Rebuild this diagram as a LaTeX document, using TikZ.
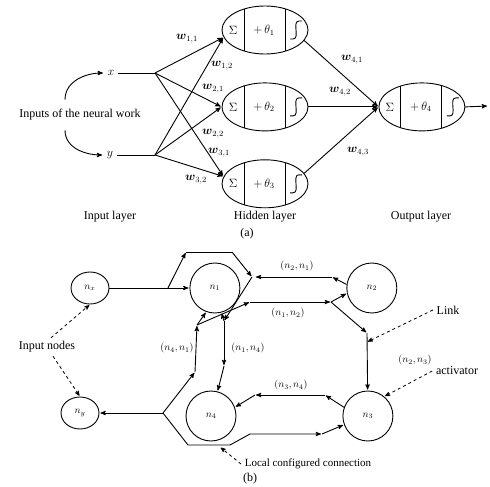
\documentclass[tikz,border=0pt]{standalone}
\usepackage{amsmath}
\usepackage{amssymb}
\usepackage{fontspec}
\setmainfont{Liberation Serif}
\usetikzlibrary{arrows,positioning,shapes.geometric}
\tikzset{
    %Define standard arrow tip
    >=stealth',
    %Define style for the neurons of (a)
    neuron/.style={
           ellipse,
           draw=black, line width=0.9pt,
           minimum width=86pt,
           minimum height=48pt,
           inner sep=0pt},
    %Define style for the nodes of (b)
    unit/.style={
           circle,
           draw=black, line width=0.9pt,
           minimum size=50pt,
           inner sep=0pt,
           font=\fontsize{10}{12}\selectfont},
    inunit/.style={
           ellipse,
           draw=black, line width=0.9pt,
           minimum width=38pt,
           minimum height=32pt,
           inner sep=0pt,
           font=\fontsize{10}{12}\selectfont},
    weight/.style={font=\fontsize{12}{14}\selectfont},
    pairlbl/.style={font=\fontsize{10}{12}\selectfont},
    % Define arrow styles
    pil/.style={
           ->,
           line width=0.9pt,
           shorten >=1pt},
    lead/.style={
           ->,
           dashed,
           line width=0.8pt,
           shorten >=1pt}
}

\begin{document}
\begin{tikzpicture}[x=1pt,y=1pt,line width=0.9pt,font=\fontsize{12}{14}\selectfont]
\useasboundingbox (0,0) rectangle (490,-487);
% (a)
\node[neuron](h1) at (265,-30){};
\node[neuron, below=28pt of h1](h2){};
\node[neuron, below=28pt of h2](h3){};
\node[neuron, right=70pt of h2](o){};
\foreach \nn/\k in {h1/1,h2/2,h3/3,o/4}{
  \draw (\nn.center) ++(-21,21) -- ++(0,-42);
  \draw (\nn.center) ++(20,21) -- ++(0,-42);
  \draw (\nn.center) ++(25,-9) -- ++(3,0) to[out=0,in=180] ++(6,18) -- ++(3,0);
  \node(\nn-s) at ([xshift=-32pt]\nn.center){$\Sigma$};
  \node(\nn-t) at ([xshift=-1pt]\nn.center){$+\,\theta_{\k}$};
}
\node(x) at (111,-73){$x$};
\node(y) at (110,-155){$y$};
\coordinate(fx) at (155,-73);
\coordinate(fy) at (155,-155);
\draw (x) -- (fx);
\draw (y) -- (fy);
\foreach \s in {fx,fy}
  \path (\s) edge[pil] (h1.190) edge[pil] (h2.west) edge[pil] (h3.170);
\node(inp) at (80,-115){Inputs of the neural work};
\draw[pil] ([xshift=-15pt,yshift=6pt]inp.north) to[out=90,in=180] (x);
\draw[pil] ([xshift=-15pt,yshift=-6pt]inp.south) to[out=-90,in=180] (y);
\path (h1.345) edge[pil] (o.west)
      (h2.east) edge[pil] (o.west)
      (h3.15) edge[pil] (o.west);
\coordinate(oend) at (488,-106);
\draw[pil] (o.east) -- (oend);
\foreach \nm/\lbl/\px/\py in {w11/{1,1}/187/39, w12/{1,2}/222/66, w21/{2,1}/213/89,
    w22/{2,2}/213/134, w31/{3,1}/219/153, w32/{3,2}/196/180,
    w41/{4,1}/352/60, w42/{4,2}/340/92, w43/{4,3}/358/152}
  \node[weight](\nm) at (\px,-\py){$\boldsymbol{w}_{\lbl}$};
\node(lin) at (110,-217){Input layer};
\node(lhid) at (265,-217){Hidden layer};
\node(lout) at (421,-217){Output layer};
\node(capa) at (247,-234){(a)};
% (b)
\node[inunit](nx) at (90,-288){$n_x$};
\node[inunit](ny) at (80,-413){$n_y$};
\node[unit, right=80pt of nx](n1){$n_1$};
\node[unit, right=106pt of n1](n2){$n_2$};
\node[unit](n4) at (211,-416){$n_4$};
\node[unit, right=106pt of n4](n3){$n_3$};
\coordinate(br) at (168,-288);
\coordinate(t1) at (186,-252);
\coordinate(t2) at (232,-252);
\coordinate(r1) at (252,-277);
\coordinate(a1) at (332,-277);
\coordinate(b1) at (224,-321);
\coordinate(l1) at (197,-325);
\coordinate(c1) at (250,-302);
\coordinate(a2) at (331,-302);
\coordinate(d1) at (367,-333);
\coordinate(e1) at (224,-366);
\coordinate(l2) at (195,-372);
\coordinate(j4) at (163,-413);
\coordinate(g1) at (188,-445);
\coordinate(g2) at (230,-445);
\coordinate(g3) at (250,-434);
\coordinate(g4) at (322,-434);
\coordinate(k1) at (325,-395);
\coordinate(k2) at (255,-395);
\coordinate(lk) at (367,-342);
\coordinate(lc) at (220,-447);
\draw[pil] (nx) -- (n1);
\draw[pil] (br) -- (t1);
\draw (t1) -- (t2);
\draw[pil] (t2) -- (r1);
\draw[pil] (n2.172) -- (a1);
\draw[pil,shorten >=4pt] (a1) -- (r1);
\draw[pil] (r1) -- (b1);
\draw[pil] (b1) -- (n1.285);
\draw[pil] (b1) -- (e1);
\draw[pil] (e1) -- (n4.75);
\draw[pil] (j4) -- (ny);
\draw[pil] (j4) -- (l2);
\draw[pil] (l2) -- (l1);
\draw[pil] (l1) -- (n1.250);
\draw[pil] (l1) -- (c1);
\draw[pil] (c1) -- (a2);
\draw[pil] (a2) -- (n2.192);
\draw[pil] (a2) -- (d1);
\draw[pil] (d1) -- (n3);
\draw[pil] (n3.160) -- (k1);
\draw[pil] (k1) -- (k2);
\draw[pil] (k2) -- (n4.20);
\draw[pil] (j4) -- (g1) -- (g2) -- (g3) -- (g4);
\draw[pil] (g4) -- (n3.200);
\node[pairlbl](p21) at (297,-266){$(n_2,n_1)$};
\node[pairlbl](p12) at (288,-313){$(n_1,n_2)$};
\node[pairlbl](p41) at (177,-348){$(n_4,n_1)$};
\node[pairlbl](p14) at (248,-348){$(n_1,n_4)$};
\node[pairlbl](p34) at (291,-385){$(n_3,n_4)$};
\node[pairlbl](p23) at (415,-360){$(n_2,n_3)$};
\node(inodes) at (47,-347){Input nodes};
\node(lnk) at (448,-310){Link};
\node(act) at (457,-371){activator};
\node[font=\fontsize{11}{13}\selectfont](lcc) at (308,-464){Local configured connection};
\node(capb) at (250,-479){(b)};
\draw[lead] ([xshift=4pt]inodes.north) -- (nx.south);
\draw[lead] ([xshift=6pt]inodes.south) -- (ny.north);
\draw[lead] (lnk.west) -- (lk);
\draw[lead] (act.west) -- (n3.50);
\draw[lead] (lcc.west) -- (lc);
\end{tikzpicture}
\end{document}
